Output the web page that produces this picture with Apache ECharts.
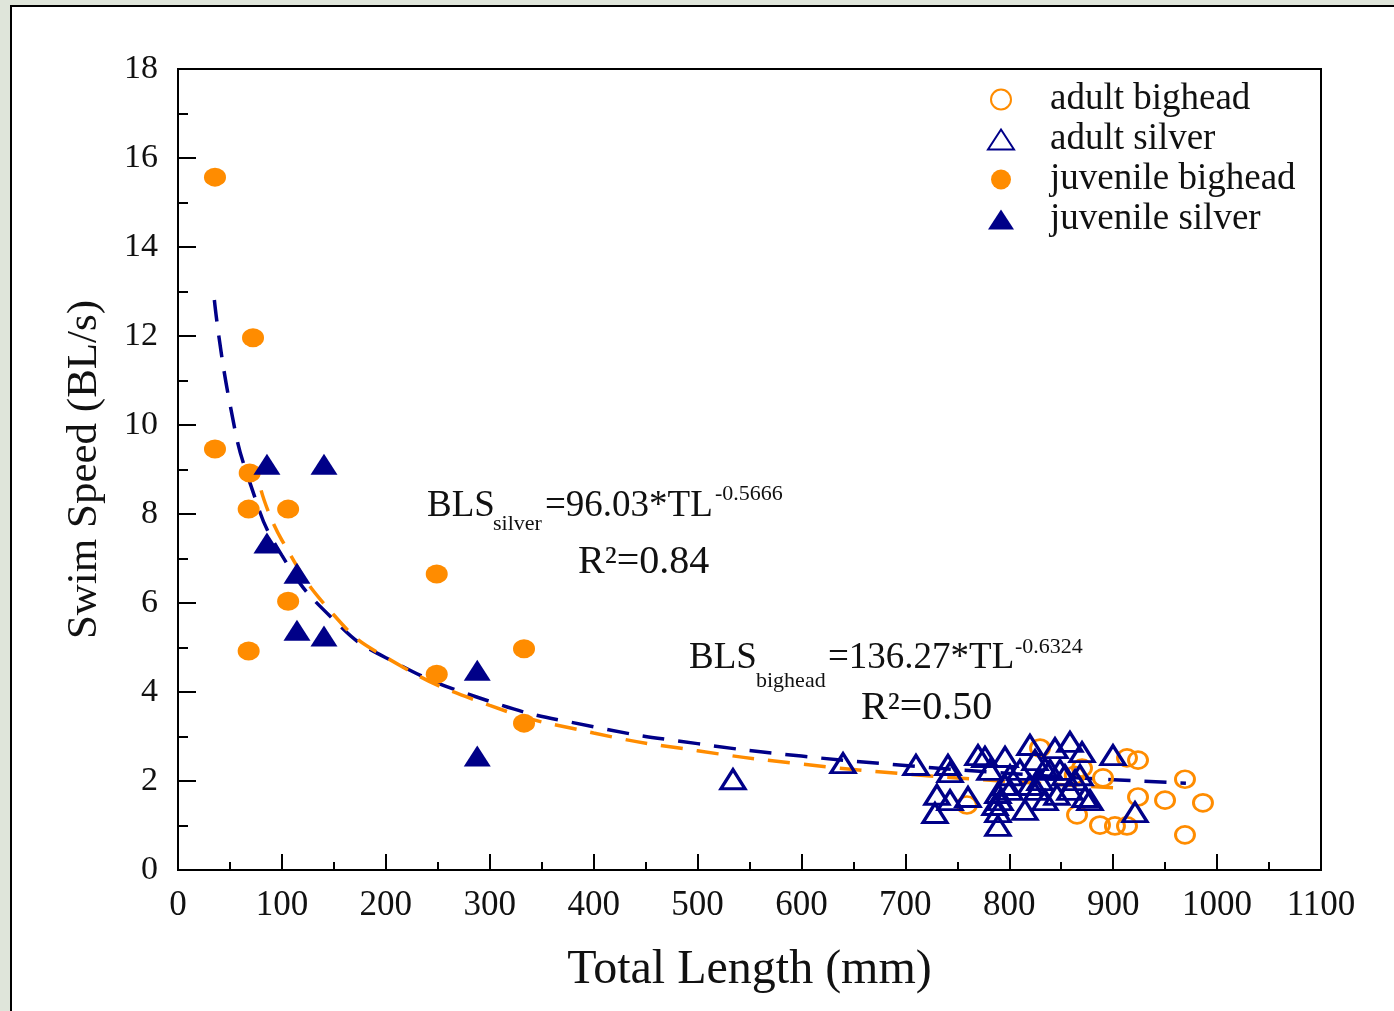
<!DOCTYPE html>
<html><head><meta charset="utf-8">
<script src="https://cdn.jsdelivr.net/npm/echarts@6/dist/echarts.min.js"></script>
<style>
html,body{margin:0;padding:0;width:1394px;height:1011px;overflow:hidden;background:#dfe5da;}
#frame{position:absolute;left:10px;top:5px;width:1400px;height:1020px;border:2px solid #000;background:#fff;}
#chart{position:absolute;left:0;top:0;width:1394px;height:1011px;}
</style></head><body>
<div id="frame"></div><div id="chart"></div>
<script>
// ---- data (TL in mm, swim speed in BL/s) ----
const adultBighead = [[829.6,2.74],[913.3,2.52],[923.9,2.47],[870.0,2.29],[890.2,2.07],[863.0,2.13],
  [923.9,1.64],[949.9,1.57],[986.4,1.51],[865.2,1.24],[887.3,1.01],[901.7,0.99],[913.3,0.99],
  [969.1,0.79],[969.1,2.04],[759.3,1.46]];
const adultSilver = [[710.2,2.36],[741.0,2.36],[743.0,2.20],[769.9,2.58],[776.6,2.54],[795.9,2.54],
  [781.4,2.25],[819.9,2.81],[834.4,2.29],[844.0,2.74],[858.4,2.88],[870.0,2.65],[899.8,2.58],
  [824.8,2.47],[810.3,2.25],[800.7,2.13],[839.2,2.25],[853.6,2.13],[868.1,2.13],[730.4,1.69],
  [743.0,1.57],[760.3,1.64],[728.5,1.28],[789.1,1.73],[791.1,1.57],[789.1,1.30],[789.1,0.99],
  [815.1,1.35],[826.7,1.80],[834.4,1.57],[845.9,1.69],[858.4,1.80],[872.9,1.64],[877.7,1.57],
  [863.3,2.02],[921.0,1.30],[848.8,2.25],[829.6,2.02],[819.9,1.91],[800.7,1.80],[786.3,1.46],
  [795.9,1.91],[534.1,2.04],[640.0,2.40]];
const juvenileBighead = [[35.6,15.57],[72.2,11.96],[35.6,9.46],[69.0,8.92],[68.0,8.11],[106.0,8.11],
  [106.0,6.04],[68.0,4.92],[249.0,6.65],[249.0,4.40],[333.0,4.97],[333.0,3.30]];
const juvenileSilver = [[85.6,9.12],[140.5,9.12],[85.6,7.35],[114.5,6.67],[114.5,5.39],[140.5,5.26],
  [288.0,4.49],[288.0,2.56]];
// fitted curves, points
const silverFit = [[35,12.81],[50,10.47],[70,8.65],[100,7.07],[150,5.62],[200,4.77],[300,3.79],
  [400,3.22],[500,2.84],[600,2.56],[700,2.35],[800,2.17],[900,2.03],[970,1.95]];
const bigheadFit = [[80,8.53],[100,7.41],[150,5.73],[200,4.78],[300,3.70],[400,3.08],[500,2.68],
  [600,2.38],[700,2.16],[800,1.99],[900,1.85]];
const seriesNames = ['adult bighead','adult silver','juvenile bighead','juvenile silver'];
const xRange = [0, 1100, 100];
const yRange = [0, 18, 2];

const ORANGE = '#ff8c00', BLUE = '#000088';
const FONT = "'Liberation Serif','Times New Roman',serif";

const chart = echarts.init(document.getElementById('chart'), null, {renderer:'canvas'});
const txt = (text, x, y, size, extra) => Object.assign({type:'text', left:x, top:y, z:100,
  style:{text, fontSize:size, fontFamily:FONT, fill:'#111'}}, extra||{});

chart.setOption({
  animation:false,
  backgroundColor:'transparent',
  grid:{left:178, right:73, top:69, bottom:141, show:true, borderColor:'#000', borderWidth:2, backgroundColor:'transparent'},
  xAxis:{type:'value', min:xRange[0], max:xRange[1], interval:xRange[2],
    name:'Total Length (mm)', nameLocation:'middle', nameGap:76,
    nameTextStyle:{fontFamily:FONT, fontSize:48, color:'#111'},
    axisLine:{show:true, lineStyle:{color:'#000', width:2}},
    axisTick:{show:true, inside:true, length:16, lineStyle:{color:'#000', width:2}},
    minorTick:{show:true, splitNumber:2, length:8, lineStyle:{color:'#000', width:2}},
    splitLine:{show:false},
    axisLabel:{fontFamily:FONT, fontSize:35, color:'#111', margin:18, formatter:v => String(v)}},
  yAxis:{type:'value', min:yRange[0], max:yRange[1], interval:yRange[2],
    name:'Swim Speed (BL/s)', nameLocation:'middle', nameGap:72,
    nameTextStyle:{fontFamily:FONT, fontSize:43, color:'#111'},
    axisLine:{show:true, lineStyle:{color:'#000', width:2}},
    axisTick:{show:true, inside:true, length:18, lineStyle:{color:'#000', width:2}},
    minorTick:{show:true, splitNumber:2, length:10, lineStyle:{color:'#000', width:2}},
    splitLine:{show:false},
    axisLabel:{fontFamily:FONT, fontSize:34, color:'#111', margin:20}},
  legend:{orient:'vertical', left:982, top:76, itemWidth:26, itemHeight:20, itemGap:3,
    data:seriesNames,
    textStyle:{fontFamily:FONT, fontSize:37, color:'#111', padding:[0,0,0,31]}},
  series:[
    {type:'line', name:'silver fit', data:silverFit, smooth:true, showSymbol:false, symbol:'none', z:3,
      lineStyle:{color:BLUE, width:3.5, type:[22,14]}},
    {type:'line', name:'bighead fit', data:bigheadFit, smooth:true, showSymbol:false, symbol:'none', z:3,
      lineStyle:{color:ORANGE, width:3.5, type:[22,14]}},
    {type:'scatter', name:seriesNames[0], data:adultBighead, symbol:'circle', symbolSize:[19,17], z:4,
      itemStyle:{color:'rgba(255,255,255,0)', borderColor:ORANGE, borderWidth:2.8, opacity:1}},
    {type:'scatter', name:seriesNames[1], data:adultSilver, symbol:'triangle', symbolSize:[24,19], z:5,
      itemStyle:{color:'rgba(255,255,255,0)', borderColor:BLUE, borderWidth:3.2, opacity:1}},
    {type:'scatter', name:seriesNames[2], data:juvenileBighead, symbol:'circle', symbolSize:[22,19], z:4,
      itemStyle:{color:ORANGE, opacity:1}},
    {type:'scatter', name:seriesNames[3], data:juvenileSilver, symbol:'triangle', symbolSize:[27,21], z:5,
      itemStyle:{color:BLUE, opacity:1}}
  ],
  graphic:[
    txt('BLS', 427, 488, 37),
    txt('silver', 493, 513, 22),
    txt('=96.03*TL', 545, 488, 37),
    txt('-0.5666', 715, 483, 22),
    txt('R²=0.84', 578, 542, 40),
    txt('BLS', 689, 640, 37),
    txt('bighead', 756, 670, 22),
    txt('=136.27*TL', 828, 640, 37),
    txt('-0.6324', 1015, 636, 22),
    txt('R²=0.50', 861, 688, 40)
  ]
});
</script></body></html>
